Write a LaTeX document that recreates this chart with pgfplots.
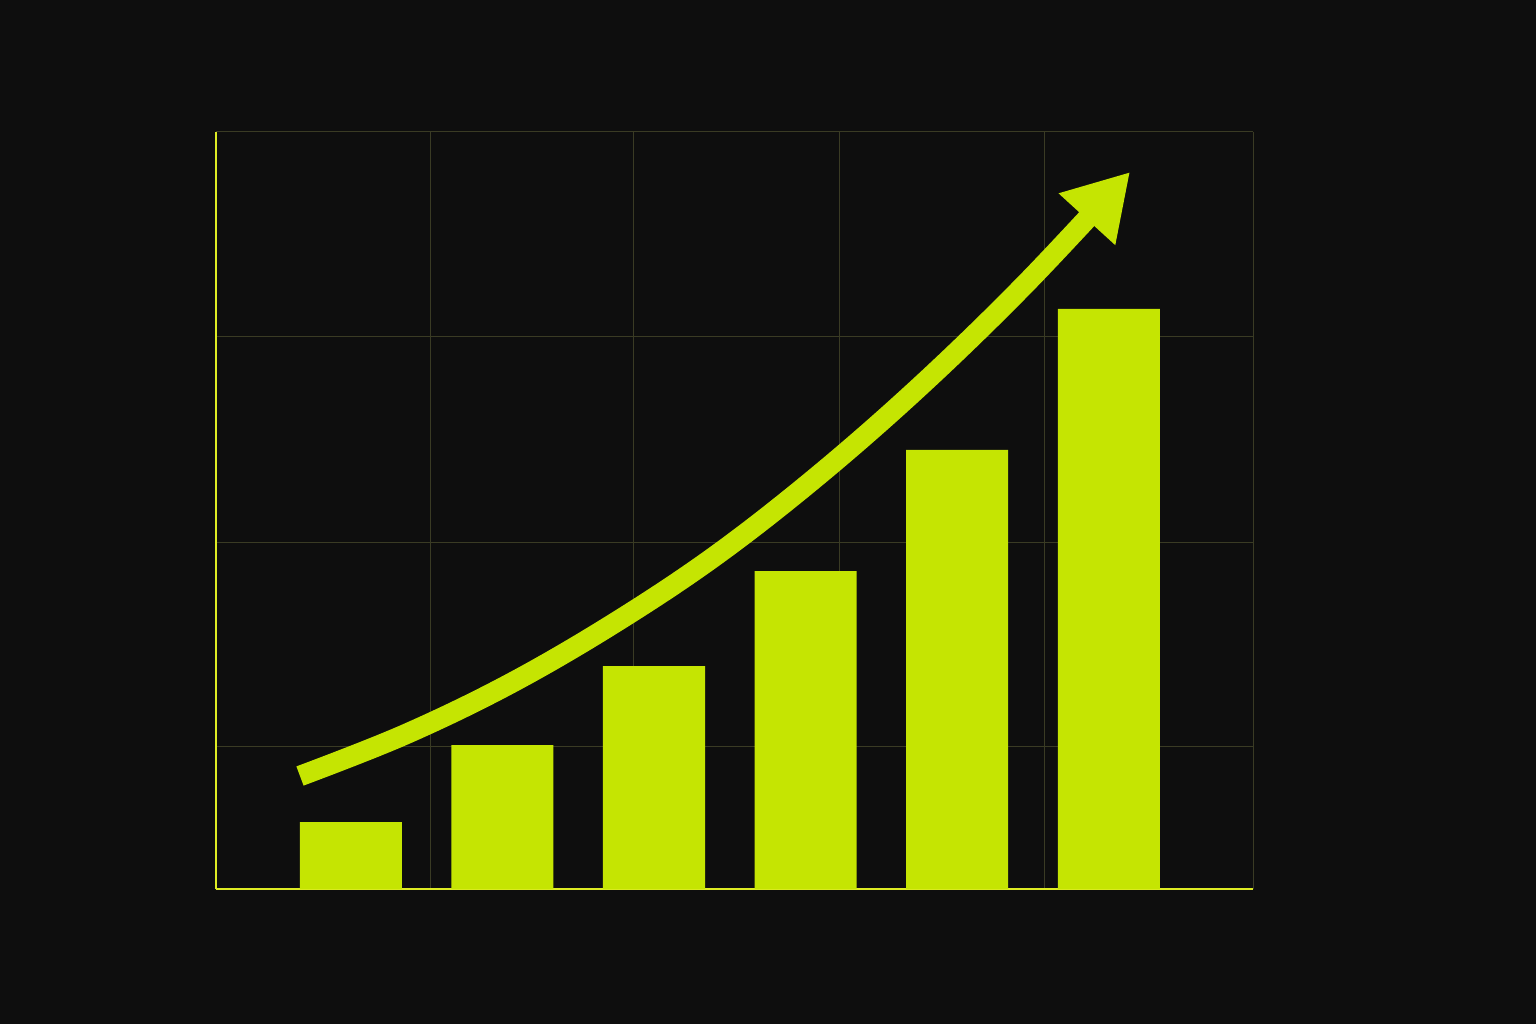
\documentclass[border=0pt]{standalone}
\usepackage{pgfplots}
\pgfplotsset{compat=1.18}
\usetikzlibrary{arrows.meta}

\definecolor{bg}{RGB}{14,14,14}
\definecolor{lime}{RGB}{197,229,2}
\definecolor{axiscol}{RGB}{222,236,36}
\definecolor{gridcol}{RGB}{58,59,36}

\begin{document}
\begin{tikzpicture}
\fill[bg] (0,0) rectangle (15.36cm,10.24cm);
\begin{axis}[
    at={(2.16cm,1.35cm)},
    anchor=south west,
    scale only axis,
    width=10.37cm,
    height=7.57cm,
    xmin=0.111, xmax=6.951,
    ymin=0, ymax=757,
    axis lines=left,
    axis line style={-, draw=axiscol, line width=0.2mm},
    xtick={1.523,2.868,4.221,5.573,6.951},
    ytick={143,347,552,757},
    xticklabels={}, yticklabels={},
    major tick length=0pt,
    grid=major,
    grid style={draw=gridcol, line width=0.1mm},
    clip=false,
]
% bars
\addplot[ybar, bar width=0.673, fill=lime, draw=none] coordinates {
    (1, 67)
    (2, 144)
    (3, 223)
    (4, 318)
    (5, 439)
    (6, 580)
};
% trend arrow
\addplot[smooth, tension=0.6, draw=lime, line width=2.05mm,
    -{Triangle[length=6.4mm, width=7.2mm]}] coordinates {
    (0.665, 113)
    (1.350, 154)
    (2.034, 204)
    (2.718, 264)
    (3.403, 333)
    (4.087, 414)
    (4.771, 505)
    (5.456, 606)
    (6.140, 717)
};
\end{axis}
\end{tikzpicture}
\end{document}
